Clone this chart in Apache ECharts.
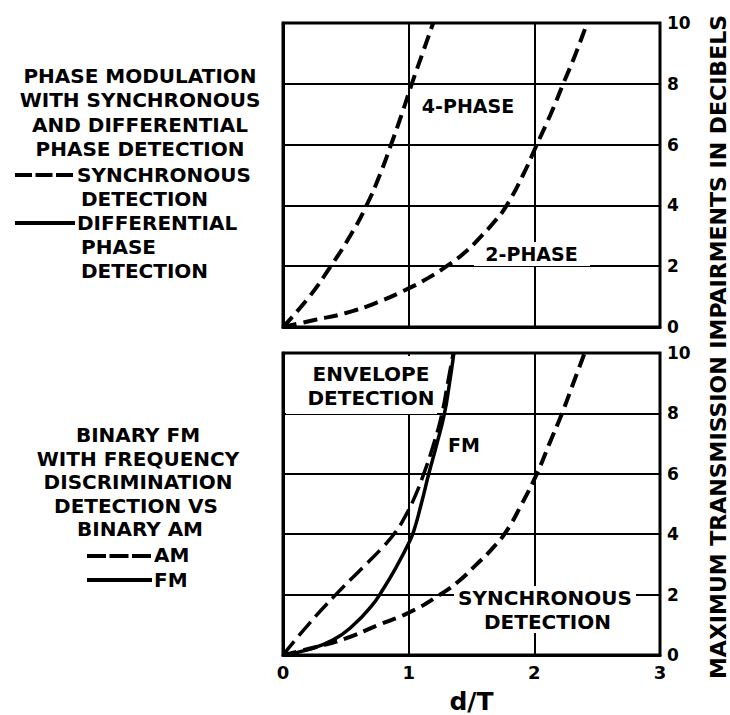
<!DOCTYPE html>
<html>
<head>
<meta charset="utf-8">
<script src="https://cdn.jsdelivr.net/npm/echarts@6/dist/echarts.min.js"></script>
<style>
  html, body { margin: 0; padding: 0; background: #fff; }
  #main { width: 730px; height: 715px; }
</style>
</head>
<body>
<div id="main"></div>
<script>
// upper panel: phase modulation, synchronous detection
const phase4X = [0, 0.21, 0.38, 0.535, 0.665, 0.77, 0.86, 0.945, 1.025, 1.11, 1.195];
const phase4Y = [0, 1, 2, 3, 4, 5, 6, 7, 8, 9, 10];
const phase2X = [0, 0.25, 0.5, 0.75, 1, 1.15, 1.32, 1.46, 1.58, 1.69, 1.78, 1.91, 2.02, 2.13, 2.23, 2.33, 2.42];
const phase2Y = [0, 0.23, 0.46, 0.81, 1.27, 1.6, 2.05, 2.5, 3, 3.5, 4, 5, 6, 7, 8, 9, 10];

// lower panel: binary FM vs binary AM
const amX = [0, 0.2, 0.42, 0.66, 0.8, 0.9, 0.98, 1.05, 1.12, 1.2, 1.265, 1.31, 1.355];
const amY = [0, 1, 2, 3, 3.6, 4.1, 4.65, 5.25, 6, 7, 8, 9, 10];
const fmX = [0, 0.2, 0.4, 0.55, 0.7, 0.8, 0.9, 1.0, 1.04, 1.1, 1.16, 1.225, 1.285, 1.325, 1.36];
const fmY = [0, 0.18, 0.5, 0.95, 1.6, 2.2, 2.9, 3.7, 4.1, 5, 6, 7, 8, 9, 10];
const syncX = [0, 0.25, 0.5, 0.75, 1, 1.25, 1.4, 1.54, 1.66, 1.77, 1.9, 2.02, 2.12, 2.22, 2.31, 2.4];
const syncY = [0, 0.25, 0.55, 0.98, 1.4, 2, 2.45, 3, 3.5, 4.05, 5, 6, 7, 8, 9, 10];

const xTicks = [0, 1, 2, 3];
const yTicks = [0, 2, 4, 6, 8, 10];

const pairs = (xs, ys) => xs.map((x, i) => [x, ys[i]]);

const FONT = '"DejaVu Sans", sans-serif';
const font = (size) => 'bold ' + size + 'px ' + FONT;

function txt(text, x, y, size, align) {
  return {
    type: 'text', x: x, y: y, z: 5,
    style: {
      text: text, fill: '#000', font: font(size),
      align: align || 'center', verticalAlign: 'middle',
      textAlign: align || 'center', textVerticalAlign: 'middle'
    }
  };
}
function sample(x1, x2, y, dash) {
  return {
    type: 'line', z: 5,
    shape: { x1: x1, y1: y, x2: x2, y2: y },
    style: { stroke: '#000', lineWidth: 4, lineDash: dash || null }
  };
}
function patch(x, y, w, h) {
  return { type: 'rect', z: 1, shape: { x: x, y: y, width: w, height: h }, style: { fill: '#fff' } };
}

function xAxisFor(grid, withLabels) {
  return {
    type: 'value', gridIndex: grid, min: xTicks[0], max: xTicks[xTicks.length - 1], interval: 1,
    axisLine: { show: true, lineStyle: { color: '#000', width: 3 } },
    axisTick: { show: false },
    axisLabel: {
      show: withLabels, color: '#000', fontSize: 18, fontWeight: 'bold', fontFamily: FONT, margin: 8
    },
    splitLine: { show: true, lineStyle: { color: '#000', width: 2 } },
    name: withLabels ? 'd/T' : '',
    nameLocation: 'middle', nameGap: 34,
    nameTextStyle: { color: '#000', fontSize: 25, fontWeight: 'bold', fontFamily: FONT }
  };
}
function yAxisFor(grid) {
  return {
    type: 'value', gridIndex: grid, position: 'right',
    min: yTicks[0], max: yTicks[yTicks.length - 1], interval: 2,
    axisLine: { show: true, lineStyle: { color: '#000', width: 3 } },
    axisTick: { show: true, inside: false, length: 5, lineStyle: { color: '#000', width: 2 } },
    axisLabel: { color: '#000', fontSize: 17, fontWeight: 'bold', fontFamily: FONT, margin: 7 },
    splitLine: { show: true, lineStyle: { color: '#000', width: 2 } }
  };
}
function curve(grid, data, width, dash) {
  return {
    type: 'line', xAxisIndex: grid, yAxisIndex: grid, data: data,
    smooth: 0.5, showSymbol: false, silent: true, z: 3,
    lineStyle: { color: '#000', width: width, type: dash || 'solid' }
  };
}

const myChart = echarts.init(document.getElementById('main'), null, { renderer: 'svg' });
const option = {
  backgroundColor: '#fff',
  animation: false,
  grid: [
    { left: 283, right: 70, top: 23, height: 304, show: true, borderColor: '#000', borderWidth: 3 },
    { left: 283, right: 70, top: 353, height: 302, show: true, borderColor: '#000', borderWidth: 3 }
  ],
  xAxis: [xAxisFor(0, false), xAxisFor(1, true)],
  yAxis: [yAxisFor(0), yAxisFor(1)],
  series: [
    curve(0, pairs(phase4X, phase4Y), 4, [14, 7]),
    curve(0, pairs(phase2X, phase2Y), 4, [14, 7]),
    curve(1, pairs(amX, amY), 3.5, [18, 7]),
    curve(1, pairs(fmX, fmY), 3.5),
    curve(1, pairs(syncX, syncY), 4, [14, 7])
  ],
  graphic: [
    // white patches under the curve labels
    patch(286, 356, 151, 58),
    patch(474, 242, 116, 24),
    patch(454, 586, 182, 47),

    // upper legend block
    txt('PHASE MODULATION', 140, 75.5, 20),
    txt('WITH SYNCHRONOUS', 140, 100, 20),
    txt('AND DIFFERENTIAL', 140, 124.5, 20),
    txt('PHASE DETECTION', 140, 149, 20),
    sample(15, 75, 175, [17, 3.5]),
    txt('SYNCHRONOUS', 77, 175, 20, 'left'),
    txt('DETECTION', 81, 199, 20, 'left'),
    sample(15, 75, 223),
    txt('DIFFERENTIAL', 77, 223, 20, 'left'),
    txt('PHASE', 81, 247, 20, 'left'),
    txt('DETECTION', 81, 271, 20, 'left'),

    // lower legend block
    txt('BINARY FM', 138, 435, 20),
    txt('WITH FREQUENCY', 138, 458.5, 20),
    txt('DISCRIMINATION', 138, 482, 20),
    txt('DETECTION VS', 136, 505.5, 20),
    txt('BINARY AM', 140, 529, 20),
    sample(87, 152, 556, [19, 3.5]),
    txt('AM', 154, 555, 20, 'left'),
    sample(87, 152, 580),
    txt('FM', 154, 580, 20, 'left'),

    // curve labels
    txt('4-PHASE', 468, 106, 19),
    txt('2-PHASE', 531.5, 253.5, 19),
    txt('ENVELOPE', 371, 374, 20),
    txt('DETECTION', 371, 398, 20),
    txt('FM', 464, 444.5, 19),
    txt('SYNCHRONOUS', 545, 598, 20),
    txt('DETECTION', 547.5, 621.5, 20),

    // shared right-hand axis title
    {
      type: 'text', x: 718, y: 347, rotation: Math.PI / 2, z: 5,
      style: {
        text: 'MAXIMUM TRANSMISSION IMPAIRMENTS IN DECIBELS', fill: '#000', font: font(22),
        align: 'center', verticalAlign: 'middle', textAlign: 'center', textVerticalAlign: 'middle'
      }
    }
  ]
};
myChart.setOption(option);
</script>
</body>
</html>
